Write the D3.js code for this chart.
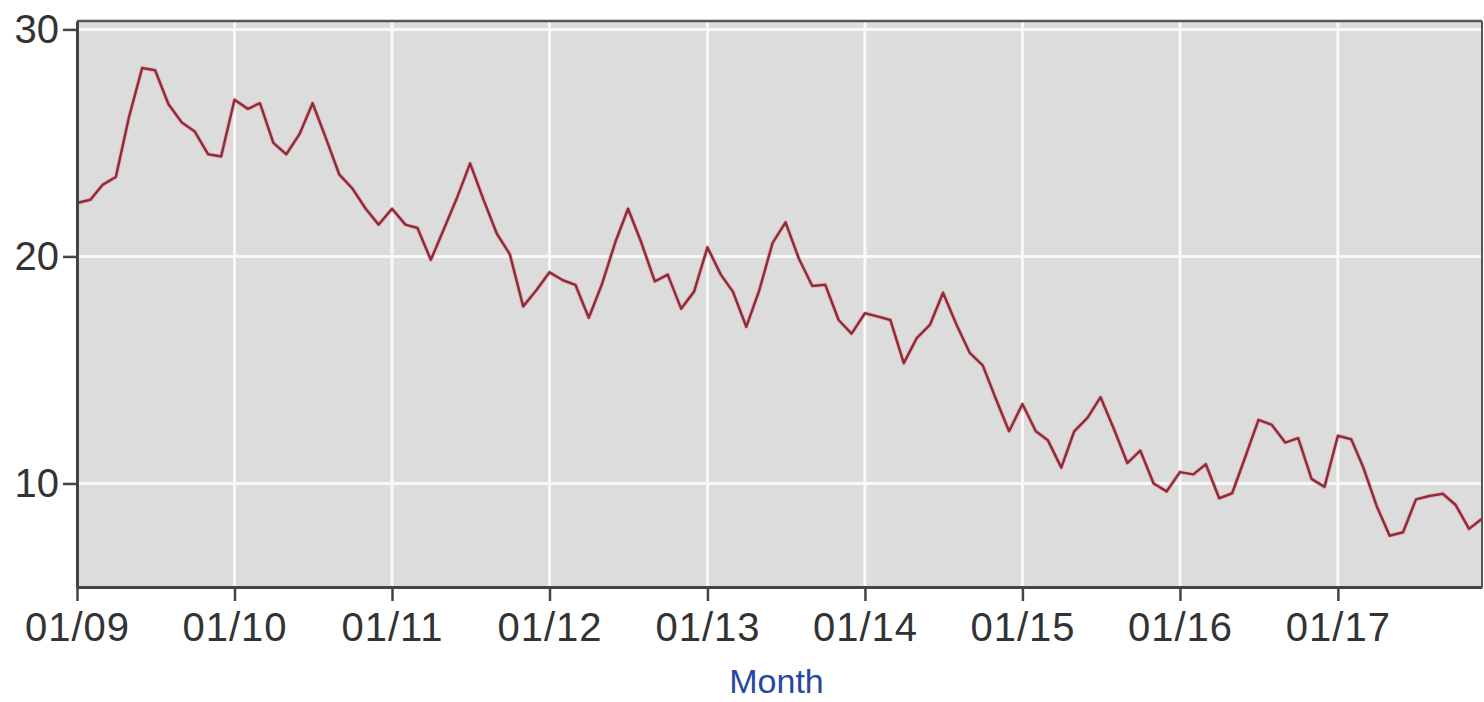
<!DOCTYPE html>
<html>
<head>
<meta charset="utf-8">
<script src="https://cdn.jsdelivr.net/npm/d3@7"></script>
<style>
  body { margin: 0; background: #fff; }
  svg { display: block; }
  text { font-family: "Liberation Sans", Arial, sans-serif; }
</style>
</head>
<body>
<div id="chart"></div>
<script>
// monthly values, Jan 2009 .. Dec 2017
const startMonth = '2009-01';
const values = [
  22.35, 22.5, 23.15, 23.5, 26.1, 28.3, 28.2, 26.7, 25.9, 25.5, 24.5, 24.4,
  26.9, 26.5, 26.75, 25.0, 24.5, 25.4, 26.75, 25.2, 23.6, 23.0, 22.1, 21.4,
  22.1, 21.4, 21.25, 19.85, 21.2, 22.6, 24.1, 22.5, 21.0, 20.1, 17.8, 18.5,
  19.3, 18.95, 18.75, 17.3, 18.75, 20.6, 22.1, 20.6, 18.9, 19.2, 17.7, 18.45,
  20.4, 19.2, 18.45, 16.9, 18.5, 20.6, 21.5, 19.9, 18.7, 18.75, 17.2, 16.6,
  17.5, 17.35, 17.2, 15.3, 16.4, 17.0, 18.4, 17.0, 15.75, 15.2, 13.7, 12.3,
  13.5, 12.3, 11.9, 10.7, 12.3, 12.9, 13.8, 12.4, 10.9, 11.45, 10.0, 9.65,
  10.5, 10.4, 10.85, 9.35, 9.57, 11.2, 12.8, 12.58, 11.8, 12.0, 10.2, 9.85,
  12.1, 11.95, 10.7, 9.0, 7.7, 7.85, 9.3, 9.45, 9.55, 9.05, 8.0, 8.45
];
const xTickLabels = ['01/09', '01/10', '01/11', '01/12', '01/13', '01/14', '01/15', '01/16', '01/17'];
const yTicks = [10, 20, 30];
const xTitle = 'Month';

const parseMonth = d3.timeParse('%Y-%m');
const parseTick = d3.timeParse('%m/%y');
const start = parseMonth(startMonth);
const data = values.map((v, i) => ({date: d3.timeMonth.offset(start, i), value: v}));

const W = 1484, H = 702;
const plot = {left: 77, right: 1482, top: 21, bottom: 587};

const x = d3.scaleTime()
  .domain([start, data[data.length - 1].date])
  .range([plot.left, plot.right]);

const y = d3.scaleLinear()
  .domain([5.44, 30.37])
  .range([plot.bottom, plot.top]);

const svg = d3.select('#chart').append('svg')
  .attr('width', W)
  .attr('height', H);

// plot background
svg.append('rect')
  .attr('x', plot.left)
  .attr('y', plot.top)
  .attr('width', plot.right - plot.left)
  .attr('height', plot.bottom - plot.top)
  .attr('fill', '#dcdcdc');

const xTickDates = xTickLabels.map(parseTick);

// grid
svg.append('g')
  .selectAll('line')
  .data(xTickDates)
  .join('line')
  .attr('x1', d => x(d)).attr('x2', d => x(d))
  .attr('y1', plot.top).attr('y2', plot.bottom)
  .attr('stroke', '#f9f9f9')
  .attr('stroke-width', 3);

svg.append('g')
  .selectAll('line')
  .data(yTicks)
  .join('line')
  .attr('x1', plot.left).attr('x2', plot.right)
  .attr('y1', d => y(d)).attr('y2', d => y(d))
  .attr('stroke', '#f9f9f9')
  .attr('stroke-width', 3);

// line
const line = d3.line()
  .x(d => x(d.date))
  .y(d => y(d.value));

svg.append('path')
  .datum(data)
  .attr('fill', 'none')
  .attr('stroke', '#e8a9b1')
  .attr('stroke-width', 4.5)
  .attr('stroke-opacity', 0.6)
  .attr('stroke-linejoin', 'round')
  .attr('d', line);

svg.append('path')
  .datum(data)
  .attr('fill', 'none')
  .attr('stroke', '#8e2c38')
  .attr('stroke-width', 2.5)
  .attr('stroke-linejoin', 'round')
  .attr('d', line);

// frame
svg.append('line')
  .attr('x1', plot.left).attr('x2', plot.right)
  .attr('y1', plot.top).attr('y2', plot.top)
  .attr('stroke', '#555').attr('stroke-width', 2.5);
svg.append('line')
  .attr('x1', plot.right).attr('x2', plot.right)
  .attr('y1', plot.top).attr('y2', plot.bottom)
  .attr('stroke', '#555').attr('stroke-width', 2);

// axes
const xAxis = d3.axisBottom(x)
  .tickValues(xTickDates)
  .tickFormat((d, i) => xTickLabels[i])
  .tickSize(14)
  .tickPadding(12)
  .tickSizeOuter(0);

const gx = svg.append('g')
  .attr('transform', `translate(0,${plot.bottom})`)
  .call(xAxis);
gx.select('.domain').attr('stroke', '#444').attr('stroke-width', 3);
gx.selectAll('.tick line').attr('stroke', '#444').attr('stroke-width', 2.5);
gx.selectAll('.tick text')
  .attr('fill', '#333')
  .style('font-size', '40px')
  .style('letter-spacing', '1px')
  .style('font-family', '"Liberation Sans", Arial, sans-serif');

const yAxis = d3.axisLeft(y)
  .tickValues(yTicks)
  .tickSize(14)
  .tickPadding(4)
  .tickSizeOuter(0);

const gy = svg.append('g')
  .attr('transform', `translate(${plot.left},0)`)
  .call(yAxis);
gy.select('.domain').attr('stroke', '#444').attr('stroke-width', 3);
gy.selectAll('.tick line').attr('stroke', '#444').attr('stroke-width', 2.5);
gy.selectAll('.tick text')
  .attr('fill', '#333')
  .style('font-size', '40px')
  .style('font-family', '"Liberation Sans", Arial, sans-serif');

// axis title
svg.append('text')
  .attr('x', (plot.left + plot.right) / 2 - 3)
  .attr('y', 693)
  .attr('text-anchor', 'middle')
  .attr('fill', '#2747a0')
  .style('font-size', '34px')
  .text(xTitle);
</script>
</body>
</html>
